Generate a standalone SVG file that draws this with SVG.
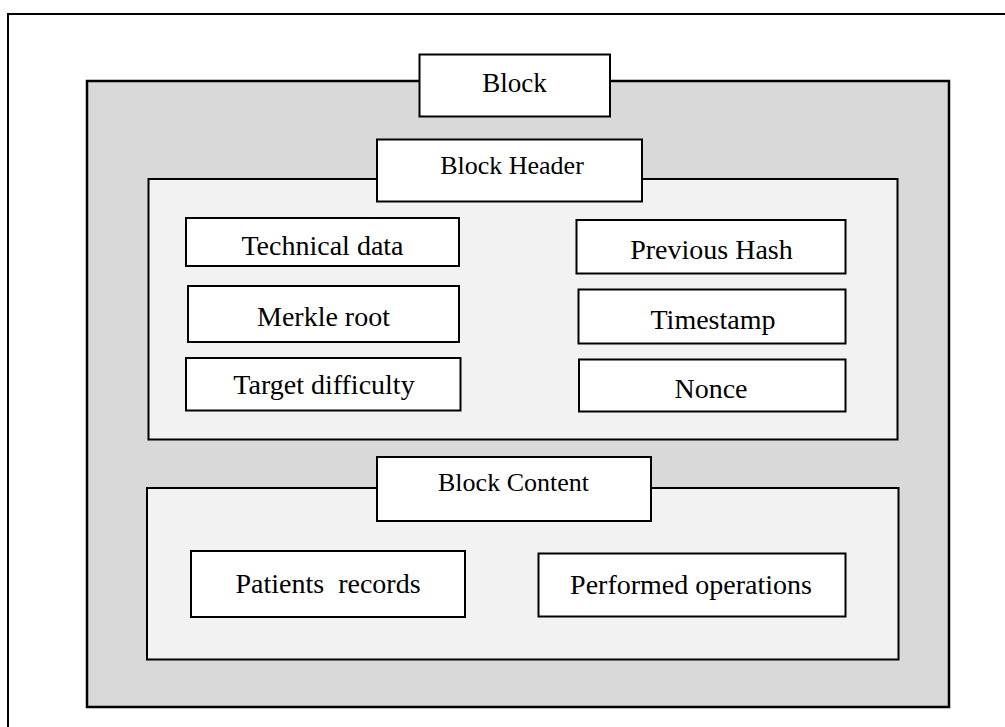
<svg xmlns="http://www.w3.org/2000/svg" width="1005" height="727" viewBox="0 0 1005 727">
<style>
.frame{fill:#ffffff;stroke:#000;stroke-width:2}
.outer{fill:#d9d9d9;stroke:#000;stroke-width:2.5}
.panel{fill:#f2f2f2;stroke:#000;stroke-width:2}
.box{fill:#ffffff;stroke:#000;stroke-width:2}
text{font-family:"Liberation Serif","Times New Roman",serif;fill:#000;text-anchor:middle}
.t{font-size:28px}
.h{font-size:26px}
.b{font-size:27px}
</style>
<rect width="1005" height="727" fill="#ffffff"/>
<rect class="frame" x="8" y="14" width="1010" height="730"/>
<g id="block">
<rect class="outer" x="87" y="81" width="862" height="626"/>
</g>
<g id="header-panel">
<rect class="panel" x="148.5" y="179" width="749" height="260.5"/>
</g>
<g id="content-panel">
<rect class="panel" x="147" y="488" width="751.5" height="171.5"/>
</g>
<g id="block-title">
<rect class="box" x="419.5" y="54.5" width="190.5" height="62"/>
<text class="b" x="514.5" y="92">Block</text>
</g>
<g id="header-title">
<rect class="box" x="377" y="139.5" width="265" height="62"/>
<text class="h" x="512" y="173.5">Block Header</text>
</g>
<g id="content-title">
<rect class="box" x="377" y="457" width="274" height="64"/>
<text class="h" x="513.5" y="491">Block Content</text>
</g>
<g id="technical-data">
<rect class="box" x="186" y="218" width="273" height="48"/>
<text class="t" x="322.5" y="255">Technical data</text>
</g>
<g id="merkle-root">
<rect class="box" x="188" y="286" width="271" height="56"/>
<text class="t" x="323.5" y="325.5">Merkle root</text>
</g>
<g id="target-difficulty">
<rect class="box" x="186" y="358" width="274.5" height="52.5"/>
<text class="t" x="324" y="394">Target difficulty</text>
</g>
<g id="previous-hash">
<rect class="box" x="576.5" y="220" width="269" height="53.5"/>
<text class="t" x="711.5" y="258.5">Previous Hash</text>
</g>
<g id="timestamp">
<rect class="box" x="578.5" y="289.5" width="267" height="54"/>
<text class="t" x="713" y="328.5">Timestamp</text>
</g>
<g id="nonce">
<rect class="box" x="579" y="359.5" width="266.5" height="52"/>
<text class="t" x="711" y="397.5">Nonce</text>
</g>
<g id="patients-records">
<rect class="box" x="191" y="551" width="274" height="66"/>
<text class="t" x="328" y="593" xml:space="preserve">Patients  records</text>
</g>
<g id="performed-operations">
<rect class="box" x="538.5" y="553.5" width="307" height="63"/>
<text class="t" x="691" y="593.5">Performed operations</text>
</g>
<g id="connectors"></g>
</svg>
